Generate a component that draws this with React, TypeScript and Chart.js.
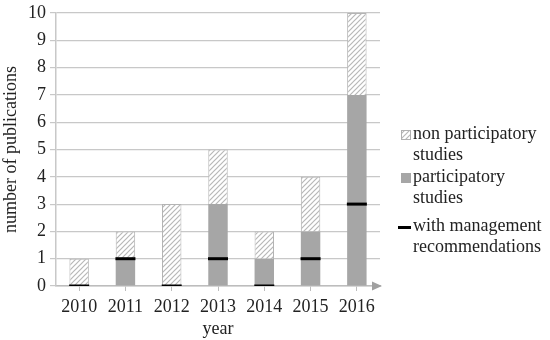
import React, { useEffect, useRef } from "react";
import { Chart, registerables } from "chart.js";

Chart.register(...registerables);

const years = ["2010", "2011", "2012", "2013", "2014", "2015", "2016"];
const participatory = [0, 1, 0, 3, 1, 2, 7];
const nonParticipatory = [1, 1, 3, 2, 1, 2, 3];
const withManagement = [0, 1, 0, 1, 0, 1, 3];
const yTicks = [0, 1, 2, 3, 4, 5, 6, 7, 8, 9, 10];
const legendLines = [
  ["non participatory", "studies"],
  ["participatory", "studies"],
  ["with management", "recommendations"],
];

const FONT = "'Liberation Serif', 'Times New Roman', serif";
const FS = 18;

function makeHatch(ctx: CanvasRenderingContext2D): CanvasPattern | string {
  const c = document.createElement("canvas");
  c.width = 5;
  c.height = 5;
  const g = c.getContext("2d");
  if (!g) return "#ddd";
  g.fillStyle = "#ffffff";
  g.fillRect(0, 0, 5, 5);
  g.strokeStyle = "#b8b8b8";
  g.lineWidth = 1.2;
  g.beginPath();
  g.moveTo(-1, 6);
  g.lineTo(6, -1);
  g.moveTo(-1, 1);
  g.lineTo(1, -1);
  g.moveTo(4, 6);
  g.lineTo(6, 4);
  g.stroke();
  return ctx.createPattern(c, "repeat") || "#ddd";
}

export default function App() {
  const ref = useRef<HTMLCanvasElement | null>(null);

  useEffect(() => {
    const canvas = ref.current;
    if (!canvas) return;
    const ctx = canvas.getContext("2d")!;
    const hatch = makeHatch(ctx);

    const extras = {
      id: "extras",
      afterDraw(chart: any) {
        const c = chart.ctx;
        const area = chart.chartArea;
        c.save();
        const y0 = chart.scales.y.getPixelForValue(0);
        c.fillStyle = "#a0a0a0";
        c.beginPath();
        c.moveTo(area.right + 2, y0);
        c.lineTo(area.right - 8, y0 - 4.5);
        c.lineTo(area.right - 8, y0 + 4.5);
        c.closePath();
        c.fill();
        const lx = 401;
        const tx = 413;
        const ys = [134, 177, 226];
        c.font = FS + "px " + FONT;
        c.fillStyle = "#222";
        c.textBaseline = "middle";
        c.textAlign = "left";
        legendLines.forEach((lines, i) => {
          const y = ys[i];
          lines.forEach((t, j) => c.fillText(t, tx, y + j * 21.5));
          if (i === 0) {
            c.fillStyle = hatch as any;
            c.fillRect(lx, y - 4, 10, 10);
            c.strokeStyle = "#b0b0b0";
            c.lineWidth = 1;
            c.strokeRect(lx + 0.5, y - 3.5, 9, 9);
          } else if (i === 1) {
            c.fillStyle = "#a6a6a6";
            c.fillRect(lx, y - 4, 10, 10);
          } else {
            c.fillStyle = "#000";
            c.fillRect(lx - 3, y, 13, 3);
          }
          c.fillStyle = "#222";
        });
        c.restore();
      },
    };

    const chart = new Chart(canvas, {
      type: "bar",
      data: {
        labels: years,
        datasets: [
          {
            type: "bar",
            label: "participatory studies",
            data: participatory,
            backgroundColor: "#a6a6a6",
            borderColor: "#a6a6a6",
            borderWidth: 0,
            barPercentage: 0.84,
            categoryPercentage: 0.5,
            order: 2,
          },
          {
            type: "bar",
            label: "non participatory studies",
            data: nonParticipatory,
            backgroundColor: hatch as any,
            borderColor: "#b4b4b4",
            borderWidth: 1,
            barPercentage: 0.84,
            categoryPercentage: 0.5,
            order: 2,
          },
          {
            type: "line",
            label: "with management recommendations",
            data: withManagement,
            stack: "mgmt",
            showLine: false,
            pointStyle: "line",
            pointRadius: 10,
            pointBorderWidth: 3,
            borderColor: "#000",
            backgroundColor: "#000",
            order: 1,
          } as any,
        ],
      },
      options: {
        animation: false,
        responsive: false,
        maintainAspectRatio: false,
        layout: { padding: { top: 0, right: 170, left: 0, bottom: 0 } },
        plugins: {
          legend: { display: false },
          tooltip: { enabled: false },
        },
        scales: {
          x: {
            stacked: true,
            offset: true,
            grid: {
              display: true,
              drawOnChartArea: false,
              offset: false,
              tickLength: 5,
              color: "#bdbdbd",
            },
            border: { display: true, color: "#bdbdbd", width: 1.5 },
            ticks: {
              font: { family: FONT, size: FS },
              color: "#222",
              padding: 5,
              maxRotation: 0,
            },
            title: {
              display: true,
              text: "year",
              font: { family: FONT, size: FS },
              color: "#222",
              padding: { top: -9, bottom: 0 },
            },
            afterFit: (s: any) => {
              s.height = 54;
            },
          },
          y: {
            stacked: true,
            min: 0,
            max: 10,
            afterBuildTicks: (s: any) => {
              s.ticks = yTicks.map((v) => ({ value: v }));
            },
            grid: {
              color: "#c8c8c8",
              tickLength: 6,
              lineWidth: 1.2,
            },
            border: { display: true, color: "#c8c8c8", width: 1.5 },
            ticks: {
              font: { family: FONT, size: FS },
              color: "#222",
              padding: 4,
            },
            title: {
              display: true,
              text: "number of publications",
              font: { family: FONT, size: FS },
              color: "#222",
              padding: { top: 0, bottom: 1 },
            },
            afterFit: (s: any) => {
              s.width = 56;
              s.paddingTop = 12;
              s.paddingBottom = 0;
            },
          },
        },
      },
      plugins: [extras],
    });
    return () => chart.destroy();
  }, []);

  return (
    <div style={{ position: "absolute", left: 0, top: 0, width: 550, height: 340, background: "#fff" }}>
      <canvas ref={ref} width={550} height={340} style={{ width: 550, height: 340 }} />
    </div>
  );
}
